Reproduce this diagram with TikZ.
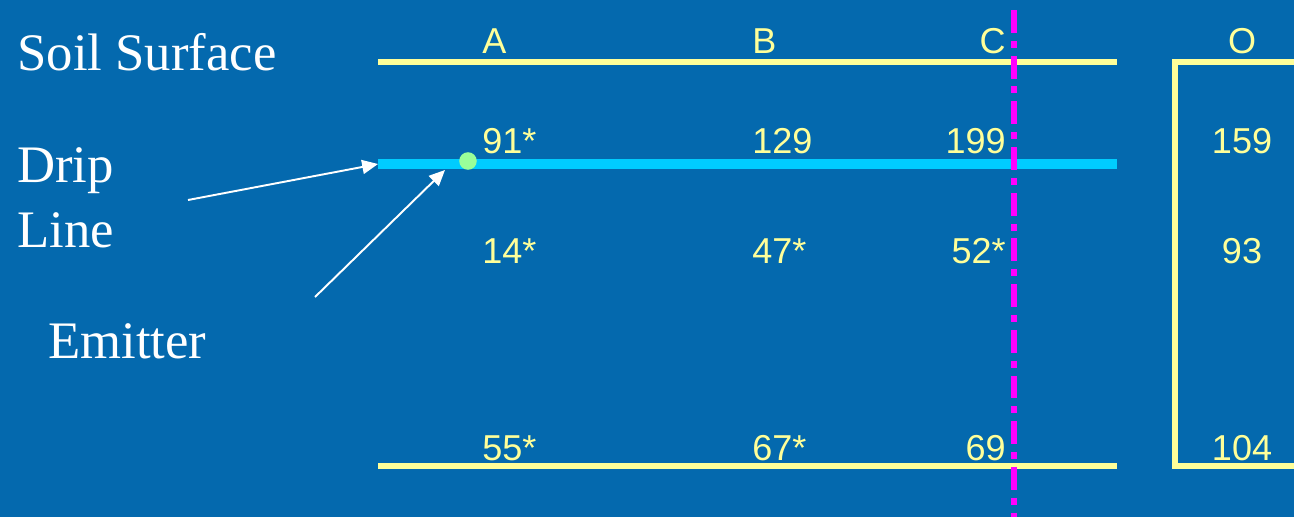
\documentclass[tikz,border=0pt]{standalone}
\usepackage{fontspec}
\setmainfont{Liberation Serif}
\newfontfamily\arialfont{Liberation Sans}
\usetikzlibrary{arrows.meta,positioning}
\definecolor{SoilBlue}{RGB}{4,105,174}
\definecolor{SoilYellow}{RGB}{255,255,153}
\definecolor{DripCyan}{RGB}{0,204,255}
\definecolor{CutMagenta}{RGB}{255,0,255}
\definecolor{EmitGreen}{RGB}{153,255,153}
\tikzset{
  lbl/.style={text=white,font=\fontsize{30}{34}\selectfont,inner sep=0pt},
  val/.style={text=SoilYellow,font=\arialfont\fontsize{20.5}{24}\selectfont,inner sep=0pt},
  soil/.style={SoilYellow,line width=3.4pt},
  pointer/.style={white,line width=1.1pt,-{Triangle[length=9pt,width=8pt]}}
}

\begin{document}
\begin{tikzpicture}[x=0.2mm,y=-0.2mm]
  \fill[SoilBlue] (0,0) rectangle (1294,517);
  \useasboundingbox (0,0) rectangle (1294,517);
  % soil profile
  \draw[soil] (378,62) -- (1117,62);
  \draw[soil] (378,466) -- (1117,466);
  \draw[soil] (1294,62) -- (1175,62) -- (1175,466) -- (1294,466);
  \draw[DripCyan,line width=6.2pt] (378,164) coordinate (dripL) -- (1117,164);
  \draw[CutMagenta,line width=3.4pt,dash pattern=on 13pt off 4.5pt on 4pt off 4.5pt]
       (1014,10) -- (1014,517);
  \node[circle,fill=EmitGreen,minimum size=10pt,inner sep=0pt] (emit) at (468,161) {};
  % left labels
  \node[lbl,anchor=base west] (soilsurf) at (17,70) {Soil Surface};
  \node[lbl,anchor=base west] (drip) at (17,182) {Drip};
  \node[lbl,anchor=base west] (line) at (17,247) {Line};
  \node[lbl,anchor=base west] (emitter) at (48,358) {Emitter};
  \coordinate (dripT) at (188,200);
  \coordinate (emitT) at (315,297);
  \coordinate (emitH) at (445,170);
  \draw[pointer] (dripT) -- (dripL);
  \draw[pointer] (emitT) -- (emitH);
  % column A
  \node[val,anchor=base west] (hA) at (482,53) {A};
  \node[val,anchor=base west] (a1) at (482,153) {91*};
  \node[val,anchor=base west] (a2) at (482,263) {14*};
  \node[val,anchor=base west] (a3) at (482,460) {55*};
  % column B
  \node[val,anchor=base west] (hB) at (752,53) {B};
  \node[val,anchor=base west] (b1) at (752,153) {129};
  \node[val,anchor=base west] (b2) at (752,263) {47*};
  \node[val,anchor=base west] (b3) at (752,460) {67*};
  % column C
  \node[val,anchor=base east] (hC) at (1006,53) {C};
  \node[val,anchor=base east] (c1) at (1006,153) {199};
  \node[val,anchor=base east] (c2) at (1006,263) {52*};
  \node[val,anchor=base east] (c3) at (1006,460) {69};
  % column O
  \node[val,anchor=base] (hO) at (1242,53) {O};
  \node[val,anchor=base] (o1) at (1242,153) {159};
  \node[val,anchor=base] (o2) at (1242,263) {93};
  \node[val,anchor=base] (o3) at (1242,460) {104};
\end{tikzpicture}
\end{document}
